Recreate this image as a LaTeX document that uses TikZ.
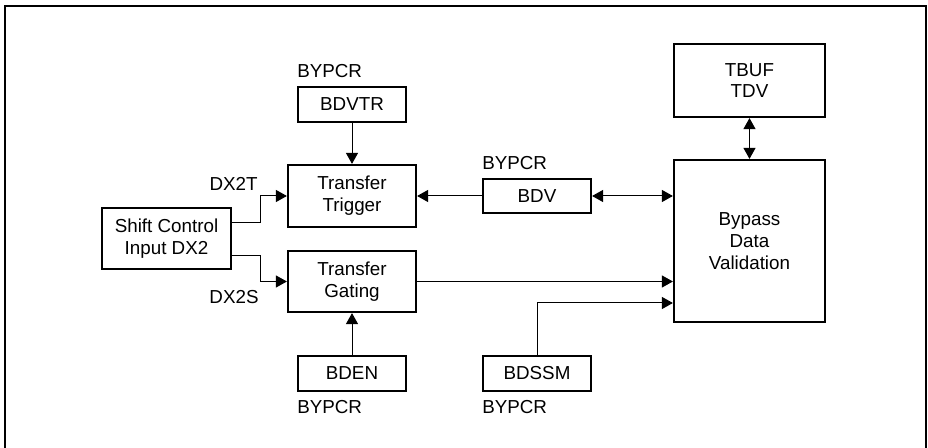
\documentclass[tikz,border=0pt]{standalone}
\usepackage{fontspec}
\setmainfont{Liberation Sans}
\usetikzlibrary{arrows.meta,positioning}

\begin{document}
\begin{tikzpicture}[
  x=0.5pt, y=-0.5pt,
  font=\fontsize{9.4}{10.9}\selectfont,
  box/.style={
    draw, line width=1.1pt, align=center, inner sep=0pt,
    minimum width=54pt, minimum height=17.5pt
  },
  lbl/.style={inner sep=0pt},
  arr/.style={-{Triangle[length=5.5pt, width=6pt]}, line width=0.5pt},
  darr/.style={{Triangle[length=5.5pt, width=6pt]}-{Triangle[length=5.5pt, width=6pt]}, line width=0.5pt}
]
\useasboundingbox (0,0) rectangle (928,448);

% Frame (open at the bottom)
\draw[line width=1.1pt] (5,448) -- (5,6) -- (926,6) -- (926,448);

% Left column
\node[box, minimum width=64.5pt, minimum height=30.5pt] (shift) at (166.5,238.5) {Shift Control\\Input DX2};

% Middle column
\node[box] (bdvtr) at (352,104.5) {BDVTR};
\node[lbl, above right=4pt and 0pt of bdvtr.north west] (bdvtrreg) {BYPCR};
\node[box, minimum width=64pt, minimum height=31pt] (trigger) at (352,196) {Transfer\\Trigger};
\node[box, minimum width=64pt, minimum height=30.5pt] (gating) at (352,281.5) {Transfer\\Gating};
\node[box] (bden) at (352,373.5) {BDEN};
\node[lbl, below right=4pt and 0pt of bden.south west] (bdenreg) {BYPCR};

% Register column
\node[box, minimum height=17pt] (bdv) at (537,196) {BDV};
\node[lbl, above right=4pt and 0pt of bdv.north west] (bdvreg) {BYPCR};
\node[box] (bdssm) at (537,373.5) {BDSSM};
\node[lbl, below right=4pt and 0pt of bdssm.south west] (bdssmreg) {BYPCR};

% Right column
\node[box, minimum width=75.5pt, minimum height=36.5pt] (tbuf) at (749.5,80.5) {TBUF\\TDV};
\node[box, minimum width=75.5pt, minimum height=81pt] (bypass) at (749.5,241) {Bypass\\Data\\Validation};

% Shift control outputs
\draw[arr] ([yshift=8pt]shift.east) -- ++(28,0)
  |- node[pos=0.5, lbl, anchor=south east, xshift=-1pt, yshift=2.5pt] (dxt) {DX2T}
  (trigger.west);
\draw[arr] ([yshift=-8.5pt]shift.east) -- ++(28,0)
  |- node[pos=0.5, lbl, anchor=north east, xshift=-0.5pt, yshift=-4pt] (dxs) {DX2S}
  (gating.west);

% Vertical arrows
\draw[arr] (bdvtr) -- (trigger);
\draw[arr] (bden) -- (gating);
\draw[darr] (tbuf) -- (bypass);

% Horizontal arrows
\draw[arr] (bdv.west) -- (trigger.east);
\draw[darr] (bdv.east) -- (bdv.east -| bypass.west);
\draw[arr] (gating.east) -- (gating.east -| bypass.west);
\draw[arr] (bdssm.north) |- ([yshift=-31pt]bypass.west);

\end{tikzpicture}
\end{document}
